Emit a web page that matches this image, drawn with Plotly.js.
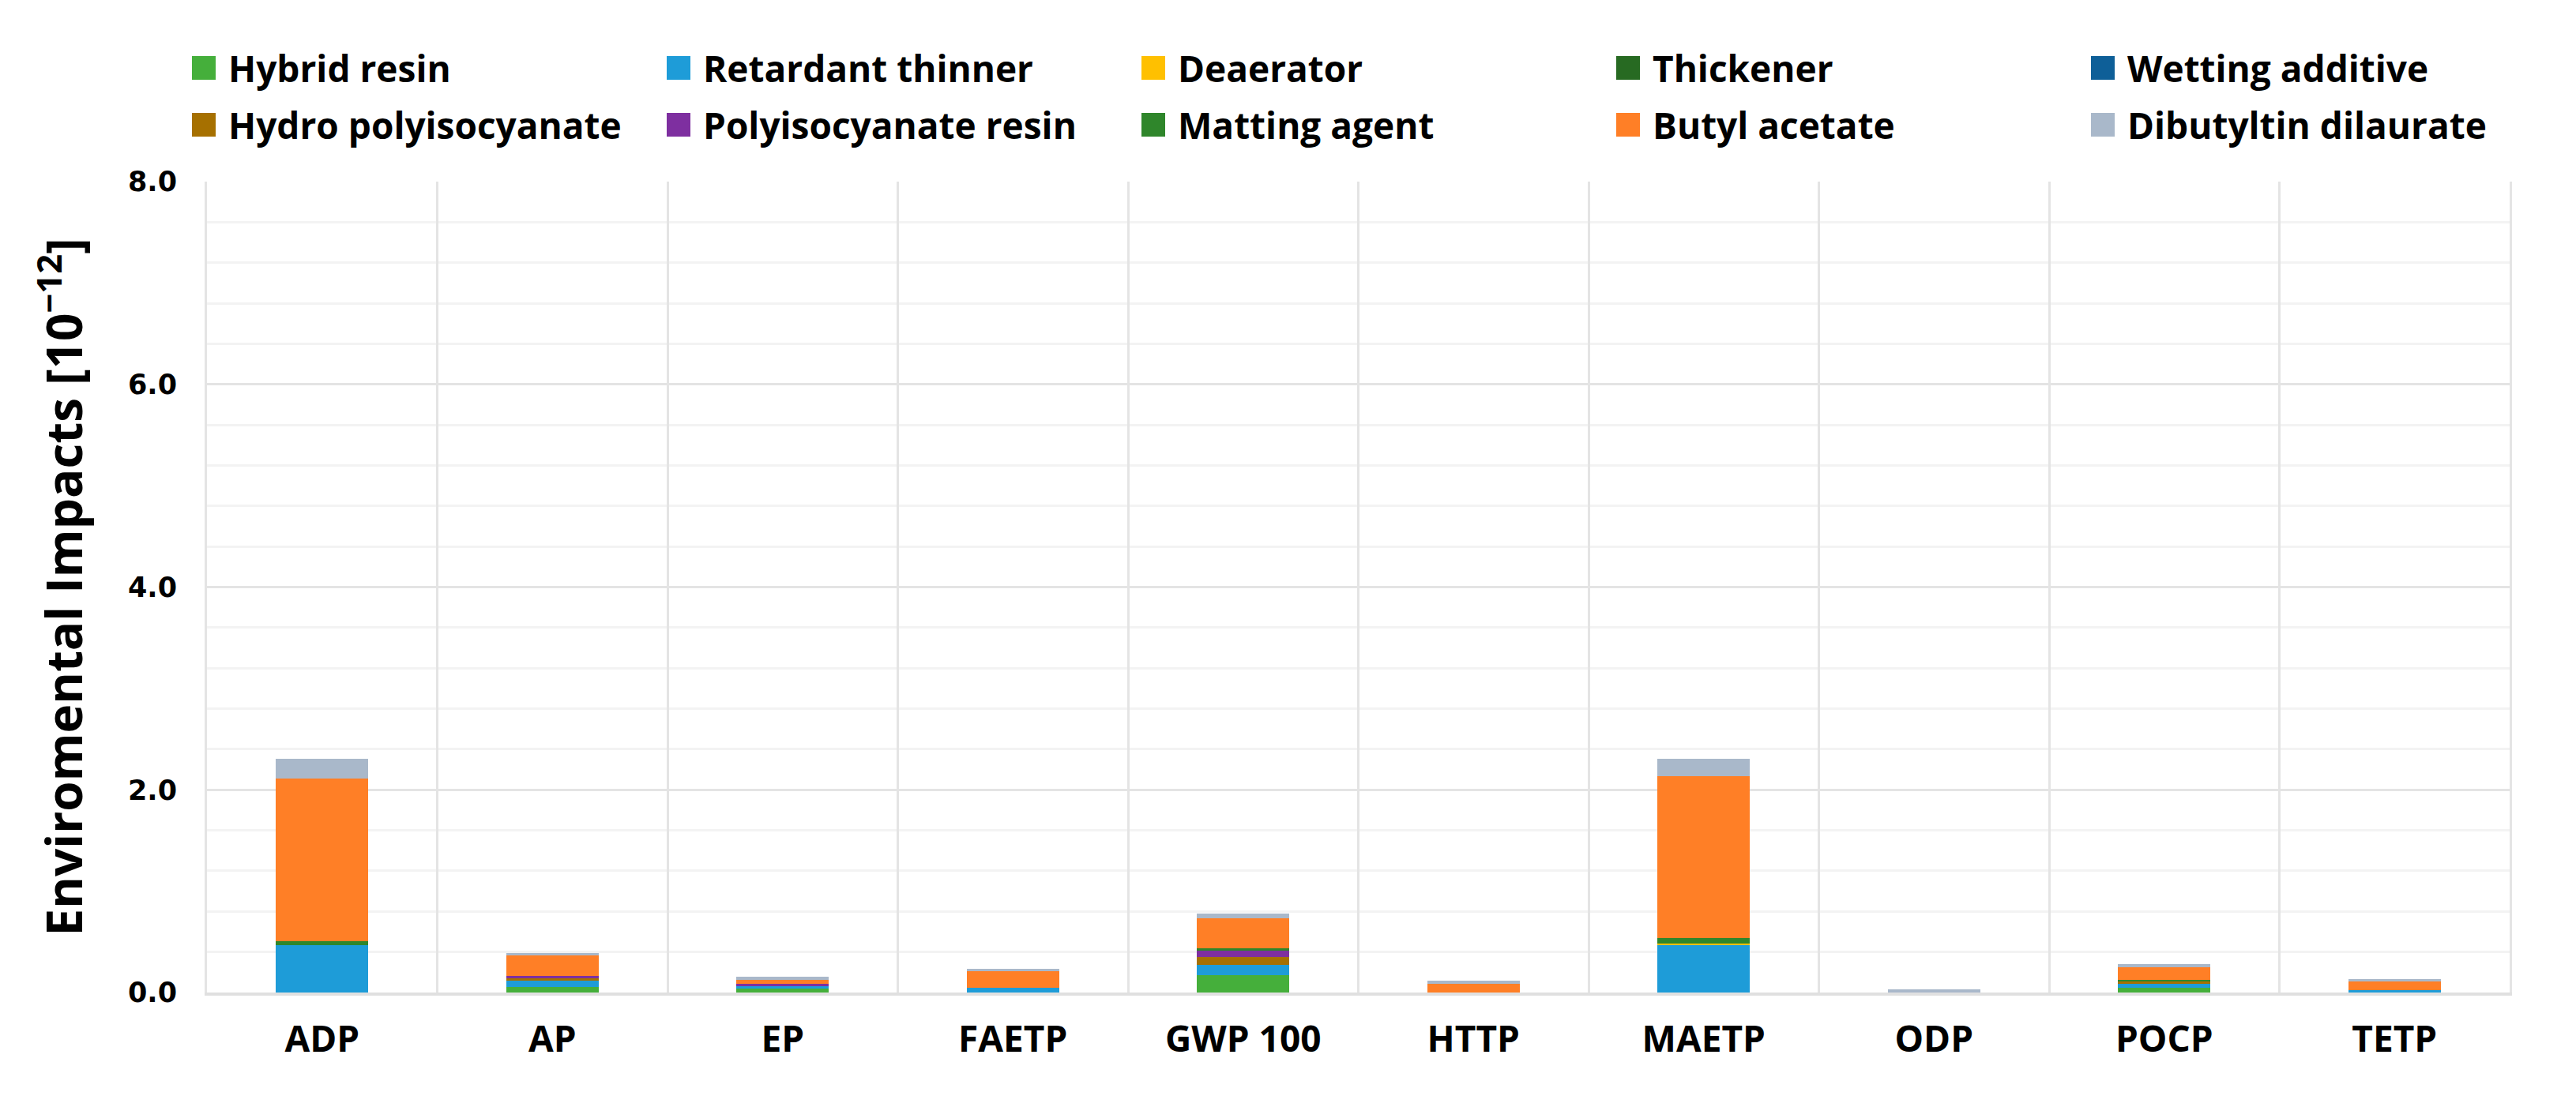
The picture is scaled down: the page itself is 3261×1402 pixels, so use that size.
<!DOCTYPE html>
<html>
<head>
<meta charset="utf-8">
<script src="https://cdn.plot.ly/plotly-3.0.1.min.js"></script>
<style>html,body{margin:0;padding:0;background:#fff;}#chart{width:3261px;height:1402px;}</style>
</head>
<body>
<div id="chart"></div>
<script>
const categories = ['ADP','AP','EP','FAETP','GWP 100','HTTP','MAETP','ODP','POCP','TETP'];

const seriesNames = ['Hybrid resin','Retardant thinner','Deaerator','Thickener','Wetting additive',
  'Hydro polyisocyanate','Polyisocyanate resin','Matting agent','Butyl acetate','Dibutyltin dilaurate'];
const seriesColors = ['#45AF3B','#1E9CD8','#FFC000','#276A22','#0E5F98',
  '#A67000','#7E2FA0','#2F862B','#FF7F26','#A9B8CA'];

const hybridResin        = [0,     0.055, 0.041, 0,     0.168, 0,     0,     0,     0.044, 0];
const retardantThinner   = [0.469, 0.062, 0.018, 0.044, 0.101, 0,     0.469, 0,     0.039, 0.021];
const deaerator          = [0,     0,     0,     0,     0,     0,     0.016, 0,     0,     0];
const thickener          = [0,     0,     0,     0,     0,     0,     0,     0,     0,     0];
const wettingAdditive    = [0,     0,     0,     0,     0,     0,     0,     0,     0,     0];
const hydroPolyiso       = [0,     0.026, 0,     0,     0.078, 0,     0,     0,     0.023, 0];
const polyisoResin       = [0,     0.021, 0.023, 0,     0.065, 0,     0,     0,     0,     0];
const mattingAgent       = [0.039, 0,     0,     0,     0.023, 0,     0.049, 0,     0.018, 0];
const butylAcetate       = [1.602, 0.203, 0.039, 0.163, 0.300, 0.083, 1.599, 0,     0.122, 0.086];
const dibutyltin         = [0.195, 0.023, 0.031, 0.023, 0.047, 0.031, 0.172, 0.029, 0.031, 0.023];

const seriesValues = [hybridResin, retardantThinner, deaerator, thickener, wettingAdditive,
  hydroPolyiso, polyisoResin, mattingAgent, butylAcetate, dibutyltin];

const yTickVals = [0, 2, 4, 6, 8];

// layout geometry
const W = 3261, H = 1402;
const M = {l: 262, r: 84, t: 230, b: 145, pad: 0};
const PW = W - M.l - M.r, PH = H - M.t - M.b;
const px2x = p => (p - M.l) / PW;
const py2y = p => (H - M.b - p) / PH;

const traces = seriesNames.map((name, i) => ({
  type: 'bar',
  name: name,
  x: categories,
  y: seriesValues[i],
  marker: {color: seriesColors[i], line: {width: 0}},
  showlegend: false,
  hoverinfo: 'name+y'
}));

const mainFamily = '"Open Sans", Lato, sans-serif';

// custom legend (5 columns x 2 rows)
const legendFont = {family: mainFamily, size: 46, color: '#000', weight: 700};
const shapes = [];
const annotations = [];
const colStart = 243, colStep = 601, rowY = [86, 158], sw = 30, gap = 14;
seriesNames.forEach((name, i) => {
  const col = i % 5, row = Math.floor(i / 5);
  const x0 = colStart + col * colStep;
  const yc = rowY[row];
  shapes.push({type: 'rect', xref: 'paper', yref: 'paper',
    x0: px2x(x0), x1: px2x(x0 + sw), y0: py2y(yc + sw / 2), y1: py2y(yc - sw / 2),
    fillcolor: seriesColors[i], line: {width: 0}});
  annotations.push({xref: 'paper', yref: 'paper', x: px2x(x0 + sw + gap), y: py2y(yc),
    xanchor: 'left', yanchor: 'middle', showarrow: false, text: name, font: legendFont});
});

const layout = {
  width: W, height: H,
  margin: M,
  paper_bgcolor: '#fff', plot_bgcolor: '#fff',
  barmode: 'stack',
  bargap: 0.6,
  showlegend: false,
  xaxis: {
    type: 'category',
    tickson: 'boundaries',
    showgrid: true, gridcolor: '#E4E4E4', gridwidth: 3,
    showline: true, linecolor: '#E0E0E0', linewidth: 4,
    ticks: '', ticklabelstandoff: 16,
    tickfont: {family: mainFamily, size: 46, color: '#000', weight: 700},
    zeroline: false, fixedrange: true
  },
  yaxis: {
    range: [0, 8],
    tickvals: yTickVals,
    tickformat: '.1f',
    showgrid: true, gridcolor: '#E4E4E4', gridwidth: 3,
    minor: {dtick: 0.4, tick0: 0, showgrid: true, gridcolor: '#F3F3F3', gridwidth: 3, ticks: ''},
    showline: true, mirror: true, linecolor: '#E4E4E4', linewidth: 3,
    ticks: '', ticklabelstandoff: 28,
    zeroline: false,
    tickfont: {family: '"DejaVu Sans", Verdana, sans-serif', size: 35, color: '#000', weight: 700},
    title: {text: 'Enviromental Impacts [10<sup>\u221212</sup>]', standoff: 38,
      font: {family: mainFamily, size: 62, color: '#000', weight: 700}},
    automargin: false, fixedrange: true
  },
  shapes: shapes,
  annotations: annotations
};

Plotly.newPlot('chart', traces, layout, {displayModeBar: false, staticPlot: true});
</script>
</body>
</html>
